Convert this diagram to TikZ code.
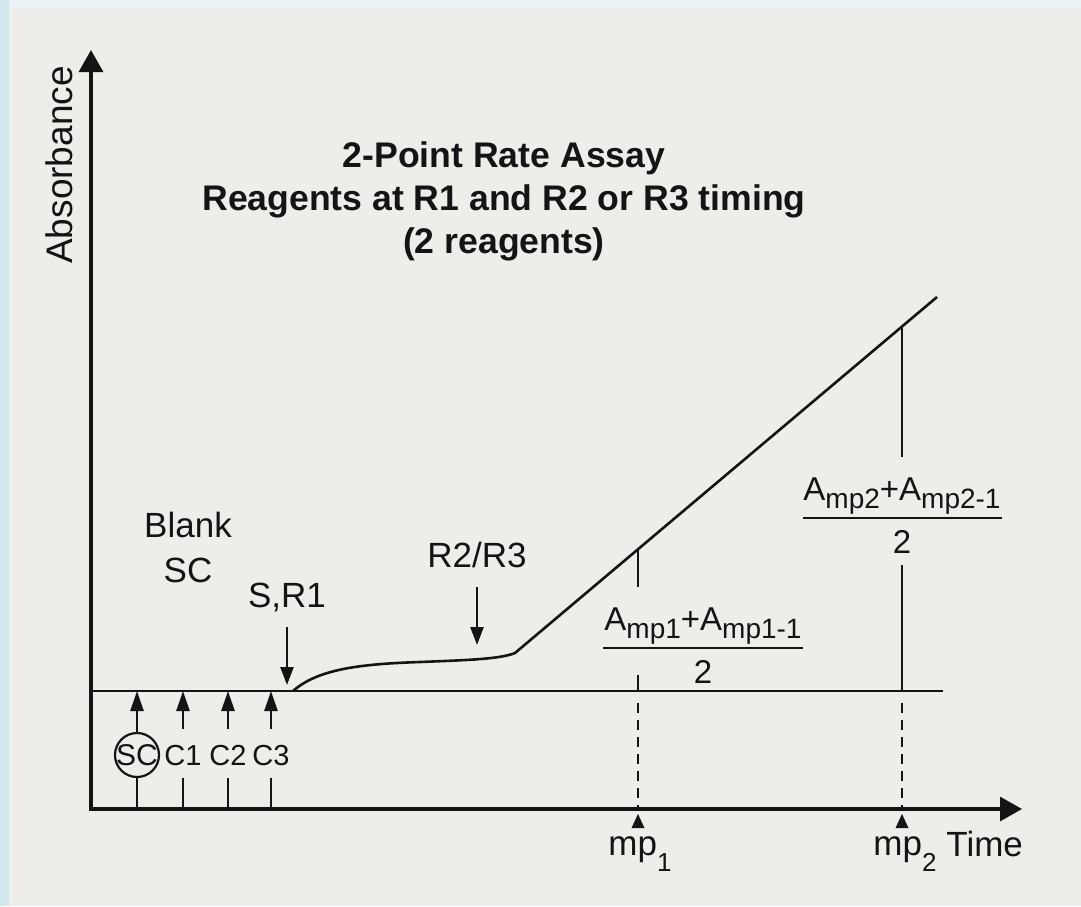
\documentclass[tikz,border=0pt]{standalone}
\usepackage{fontspec}
\setmainfont{Liberation Sans}
\usetikzlibrary{arrows.meta}
\newcommand\sbs[2][-4pt]{\raisebox{#1}{\fontsize{14}{14}\selectfont #2}}
\newcommand\sbm[1]{\raisebox{-8pt}{\fontsize{13}{13}\selectfont #1}}
\definecolor{paper}{HTML}{EEEDE9}
\definecolor{strip}{HTML}{D3E8EE}
\definecolor{topstrip}{HTML}{EAF2F5}
\definecolor{ink}{HTML}{141414}
\begin{document}
\begin{tikzpicture}[x=0.5pt,y=-0.5pt,
  every node/.style={inner sep=0pt, text=ink},
  ttl/.style={font=\fontsize{17.8}{21.5}\selectfont\bfseries, anchor=base},
  lbl/.style={font=\fontsize{17.5}{21}\selectfont, anchor=base},
  small/.style={font=\fontsize{14.5}{16}\selectfont, anchor=base},
  frac/.style={font=\fontsize{16.5}{20}\selectfont, anchor=base},
  axis/.style={draw=ink, line width=1.6pt},
  thin/.style={draw=ink, line width=1.1pt},
  mid/.style={draw=ink, line width=1.3pt},
  dashline/.style={draw=ink, line width=1.3pt, dash pattern=on 5pt off 3.5pt},
  uparrow/.style={draw=ink, line width=1.3pt, -{Triangle[length=10pt,width=6.5pt]}},
  downarrow/.style={draw=ink, line width=1.3pt, -{Triangle[length=9pt,width=6.5pt]}},
  marker/.style={fill=ink}
]
% background
\fill[paper] (0,0) rectangle (1081,906);
\fill[topstrip] (0,0) rectangle (1081,8);
\fill[strip] (0,0) rectangle (9,906);
\useasboundingbox (0,0) rectangle (1081,906);

% axes
\coordinate (ytip) at (91,50);
\coordinate (O) at (91,809);
\coordinate (xtip) at (1022,809);
\draw[axis, {Triangle[length=11pt,width=12pt]}-{Triangle[length=11pt,width=12pt]}] (ytip) -- (O) -- (xtip);

% labels of axes
\node[lbl, rotate=90, font=\fontsize{18.5}{21}\selectfont] (absorb) at (72,165) {Absorbance};
\node[lbl, anchor=base west] (time) at (946,856) {Time};

% title
\node[ttl] (t1) at (504,167) {2-Point Rate Assay};
\node[ttl] (t2) at (504,210) {Reagents at R1 and R2 or R3 timing};
\node[ttl] (t3) at (504,253) {(2 reagents)};

% baseline
\coordinate (bl0) at (91,691);
\coordinate (bl1) at (943,691);
\draw[thin] (bl0) -- (bl1);

% reaction curve
\coordinate (cstart) at (293,691);
\coordinate (cend) at (937,297);
\draw[mid, line join=round] (cstart) .. controls (318,669) and (360,664) .. (420,662)
  .. controls (470,660) and (500,659) .. (515,653) -- (cend);

% Blank SC
\node[lbl] (blank) at (188,537) {Blank};
\node[lbl] (sc) at (188,582) {SC};

% S,R1 arrow
\node[lbl] (sr1) at (287,607) {S,R1};
\coordinate (sr1top) at (287,627);
\coordinate (sr1tip) at (287,685);
\draw[downarrow] (sr1top) -- (sr1tip);

% R2/R3 arrow
\node[lbl] (r2r3) at (477,567) {R2/R3};
\coordinate (r2top) at (477,587);
\coordinate (r2tip) at (477,645);
\draw[downarrow] (r2top) -- (r2tip);

% SC C1 C2 C3 measurement arrows
\node[draw=ink, line width=1.1pt, circle, minimum size=22pt, font=\fontsize{15}{16}\selectfont] (scc) at (137,755) {\makebox[0pt]{SC}};
\node[small] (c1) at (183,765) {C1};
\node[small] (c2) at (228,765) {C2};
\node[small] (c3) at (271,765) {C3};
\draw[uparrow] (scc.north) -- (scc.north |- bl0);
\draw[mid] (scc.south) -- (scc.south |- O);
\foreach \c in {c1,c2,c3}{
  \draw[uparrow, shorten <=7.5pt] (\c.north) -- (\c.north |- bl0);
  \draw[mid, shorten <=6pt] (\c.south) -- (\c.south |- O);
}

% mp1
\coordinate (m1top) at (638,549);
\coordinate (m1a) at (638,587);
\coordinate (m1b) at (638,675);
\coordinate (m1base) at (638,691);
\coordinate (mp1) at (638,809);
\draw[mid] (m1top) -- (m1a);
\draw[mid] (m1b) -- (m1base);
\draw[dashline] (m1base) ++(0,12) -- (mp1);
\fill[marker] (mp1) ++(0,5) -- ++(-6.5,14) -- ++(13,0) -- cycle;
\node[lbl] (mp1lbl) at (640,855) {mp\sbm{1}};

% fraction 1
\node[frac] (n1) at (703,630) {A\sbs{mp1}+A\sbs{mp1-1}};
\coordinate (f1l) at (603,648);
\coordinate (f1r) at (803,648);
\draw[thin] (f1l) -- (f1r);
\node[frac] (d1) at (703,683) {2};

% mp2
\coordinate (m2top) at (902,326);
\coordinate (m2a) at (902,457);
\coordinate (m2b) at (902,565);
\coordinate (m2base) at (902,691);
\coordinate (mp2) at (902,809);
\draw[mid] (m2top) -- (m2a);
\draw[mid] (m2b) -- (m2base);
\draw[dashline] (m2base) ++(0,12) -- (mp2);
\fill[marker] (mp2) ++(0,5) -- ++(-6.5,14) -- ++(13,0) -- cycle;
\node[lbl, anchor=base west] (mp2lbl) at (873,855) {mp\sbm{2}};

% fraction 2
\node[frac] (n2) at (902,500) {A\sbs{mp2}+A\sbs{mp2-1}};
\coordinate (f2l) at (803,518);
\coordinate (f2r) at (1002,518);
\draw[thin] (f2l) -- (f2r);
\node[frac] (d2) at (902,553) {2};
\end{tikzpicture}
\end{document}
